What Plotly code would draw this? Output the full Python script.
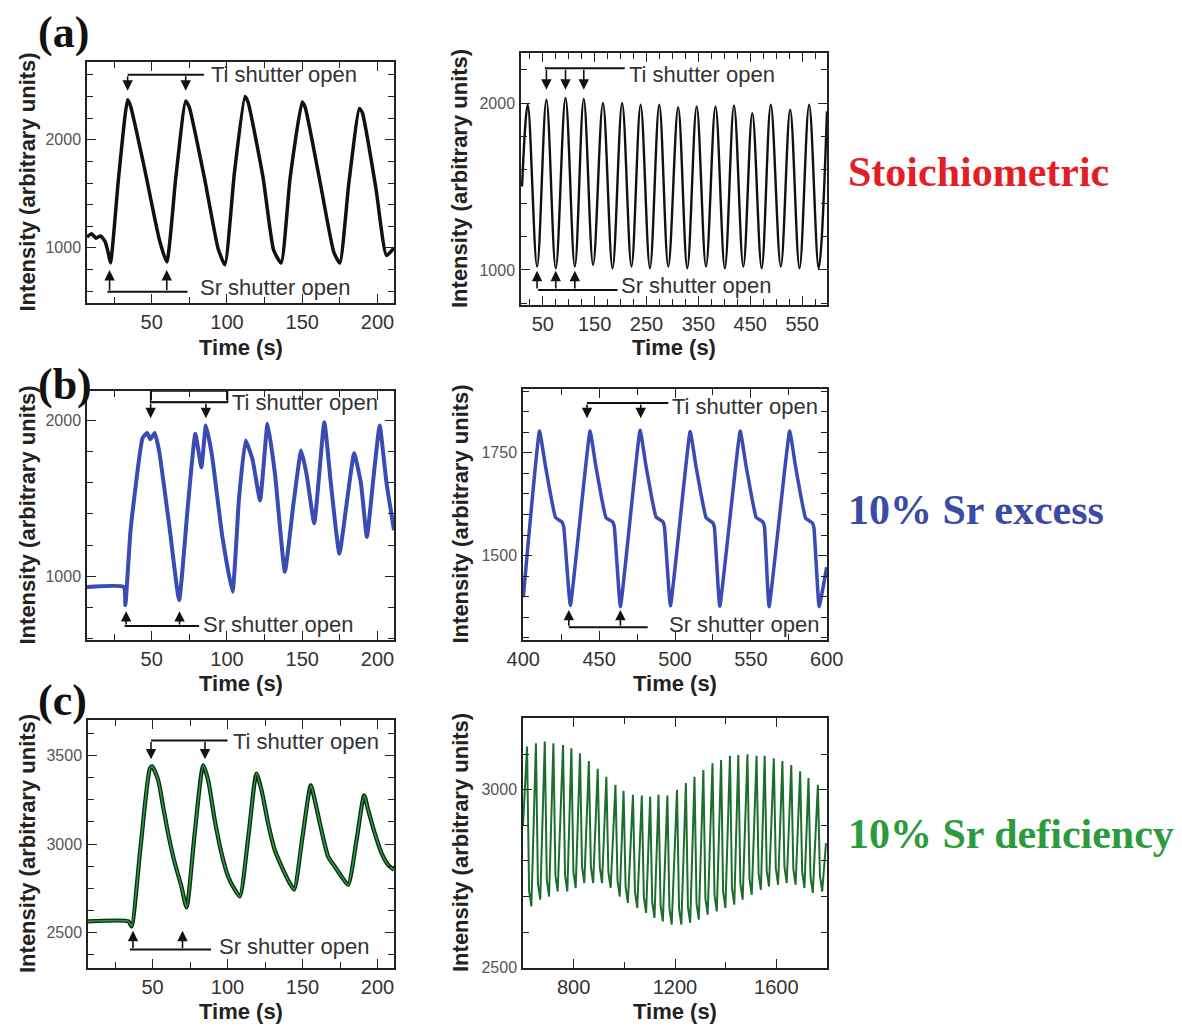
import plotly.graph_objects as go

W, H = 1182, 1026

# ---------------- data ----------------
# (a) left : stoichiometric, 0-210 s
A_L_T = [7, 10, 13, 16, 19, 21, 22.6, 28, 34, 36, 45, 55, 60, 66, 72.6, 75, 85, 94, 98.6,
         105, 112, 114, 124, 131, 136, 142, 150, 152, 162, 171, 175, 181, 188, 190, 199, 206, 211]
A_L_V = [1100, 1130, 1090, 1110, 1060, 960, 860, 1650, 2370, 2310, 1750, 1080, 870, 1650, 2360, 2300, 1650, 1000, 843,
         1700, 2400, 2350, 1650, 980, 860, 1650, 2350, 2300, 1600, 960, 860, 1600, 2290, 2250, 1550, 930, 1000]

# (a) right : stoichiometric, 0-600 s
A_R_T = [10, 21, 39, 57, 75, 93.8, 111.8, 129, 147, 166, 184.5, 203, 221, 238.6, 256.6, 274.6, 292, 311,
         328.6, 346.7, 364.7, 383, 401, 418.7, 436.7, 454, 472, 489.6, 508.9, 527, 545, 563.5, 582, 598]
A_R_V = [1500, 1990, 1020, 2020, 1010, 2030, 1020, 2025, 1030, 2000, 1010, 2000, 1020, 1990, 1010, 1990, 1020, 1975,
         1010, 1980, 1020, 1980, 1010, 1985, 1020, 1940, 1010, 1990, 1020, 1960, 1010, 1990, 1010, 1950]

# (b) left : 10% Sr excess, 0-210 s
B_L_T = [7, 31.5, 32.5, 36, 44, 47, 49, 52, 55, 62, 68.2, 74, 79, 83, 86, 90, 97, 103.7, 108, 112.4, 117, 122,
         127, 132, 138.5, 144, 149.3, 153, 158, 164.7, 169, 174.7, 180, 184.5, 189, 193, 197, 201.5, 206, 211]
B_L_V = [931, 931, 814, 1300, 1890, 1920, 1880, 1920, 1800, 1300, 846, 1450, 1915, 1700, 1968, 1780, 1250, 900, 1500, 1872, 1750, 1487,
         1979, 1650, 1028, 1450, 1808, 1650, 1340, 1990, 1600, 1145, 1500, 1790, 1600, 1252, 1600, 1968, 1600, 1295]

# (b) right : 10% Sr excess, 400-600 s
B_R_T = [400,
         410.7, 414.4, 417.9, 421.2, 425.6, 426.7, 431,
         444, 447.7, 451.2, 454.5, 458.9, 460, 464,
         477, 480.7, 484.2, 487.5, 491.9, 493, 497,
         510, 513.7, 517.2, 520.5, 524.9, 526, 529.5,
         543, 546.7, 550.2, 553.5, 557.9, 559, 562,
         575.6, 579.3, 582.8, 586.1, 590.5, 591.6, 595,
         600]
B_R_V = [1399,
         1803, 1722, 1650, 1593, 1581, 1569, 1379,
         1803, 1720, 1648, 1592, 1582, 1570, 1376,
         1805, 1722, 1650, 1594, 1583, 1571, 1378,
         1802, 1720, 1649, 1592, 1580, 1568, 1377,
         1803, 1721, 1650, 1593, 1582, 1570, 1376,
         1803, 1720, 1648, 1591, 1580, 1568, 1376,
         1472]

# (c) left : 10% Sr deficiency, 0-210 s
C_L_T = [7, 34, 36, 42, 48.2, 49.8, 53.8, 57.1, 60.4, 64.9, 69.3, 72.7,
         78, 83.8, 87.1, 91.5, 96, 100.4, 104.9, 108.2,
         114, 119.3, 122.7, 127.1, 131.5, 137.1, 141.5, 144.4,
         150, 155.5, 158.2, 162.6, 167.1, 171.5, 176, 180.4,
         186, 191.1, 193.8, 198.2, 202.7, 207.1, 211]
C_L_V = [2563, 2563, 2535, 2980, 3425, 3438, 3360, 3210, 3060, 2891, 2760, 2642,
         3050, 3444, 3360, 3135, 2948, 2817, 2742, 2704,
         3050, 3397, 3303, 3116, 2966, 2854, 2779, 2742,
         3040, 3331, 3247, 3079, 2929, 2873, 2817, 2770,
         3020, 3275, 3191, 3060, 2948, 2882, 2854]

# (c) right : 10% Sr deficiency, 600-1800 s (peaks, shoulders, troughs of each oscillation)
C_R_PEAK_T = [616, 651, 686, 720, 758, 791, 825, 860, 895, 929, 965, 997, 1034, 1069, 1102, 1135, 1170,
              1208, 1243, 1277, 1312, 1348, 1382, 1417, 1450, 1486, 1522, 1554, 1590, 1624, 1659, 1694, 1727, 1764]
C_R_PEAK_V = [3122, 3131, 3136, 3131, 3126, 3117, 3103, 3081, 3059, 3037, 3014, 2997, 2986, 2984, 2981, 2986, 2984,
              3000, 3019, 3037, 3056, 3075, 3084, 3096, 3098, 3100, 3096, 3096, 3089, 3081, 3070, 3052, 3033, 3014]
C_R_SH_T = [624, 659, 694, 728, 766, 799, 833, 868, 903, 937, 973, 1005, 1042, 1077, 1110, 1143, 1178,
            1216, 1251, 1285, 1320, 1356, 1390, 1425, 1458, 1494, 1530, 1562, 1598, 1632, 1667, 1702, 1735, 1772]
C_R_SH_V = [2717, 2736, 2745, 2759, 2759, 2769, 2783, 2783, 2783, 2769, 2745, 2727, 2713, 2699, 2685, 2675, 2666,
            2666, 2671, 2680, 2694, 2703, 2713, 2722, 2736, 2750, 2764, 2773, 2778, 2783, 2778, 2769, 2755, 2759]
C_R_TR_T = [633, 668, 703, 737, 775, 808, 842, 877, 912, 946, 982, 1014, 1051, 1086, 1119, 1152, 1187,
            1225, 1260, 1294, 1329, 1365, 1399, 1434, 1467, 1503, 1539, 1571, 1607, 1641, 1676, 1711, 1744, 1781]
C_R_TR_V = [2672, 2691, 2700, 2714, 2714, 2724, 2738, 2738, 2738, 2724, 2700, 2682, 2668, 2654, 2640, 2630, 2621,
            2621, 2626, 2635, 2649, 2658, 2668, 2677, 2691, 2705, 2719, 2728, 2733, 2738, 2733, 2724, 2710, 2714]
C_R_START = (600, 2900)
C_R_END = (1796, 2850)

ROW_LABELS = ["Stoichiometric", "10% Sr excess", "10% Sr deficiency"]
PANEL_LETTERS = ["(a)", "(b)", "(c)"]
X_TITLE = "Time (s)"
Y_TITLE = "Intensity (arbitrary units)"
TI_TEXT = "Ti shutter open"
SR_TEXT = "Sr shutter open"

# shutter markers (data units): (line x0, line x1, line y, arrow xs, arrow tip y, text x, text y)
TI_MARK = {
    "1": (34, 84.7, 2602, [34, 72.6], 2455, 88, 2602),
    "2": (54, 208, 2208, [57, 93.8, 129], 2080, 212, 2170),
    "3": (49.3, 100.4, 2117, [49.3, 86], 2015, 102, 2117),
    "4": (442, 495.6, 1871, [442, 477.4], 1834, 497, 1862),
    "5": (49, 100, 3584, [49, 85], 3478, 102, 3578),
}
SR_MARK = {
    "1": (20.6, 73.8, 595, [22, 60], 795, 81, 632),
    "2": (41, 194, 880, [39, 75, 111.8], 995, 197, 905),
    "3": (32, 81.5, 680, [33, 68.5], 775, 83, 690),
    "4": (430, 482, 1326, [430, 464], 1368, 495, 1332),
    "5": (35, 89, 2404, [37, 70], 2510, 93, 2423),
}

# ---------------- layout geometry (pixels) ----------------
PANELS = {
    "1": dict(box=(87, 394, 62, 303), xr=[7, 211], yr=[490, 2720], xt0=0, xdt=50, xmin=25, ydt=1000, ymin=200),
    "2": dict(box=(521, 827, 53, 305), xr=[8, 598], yr=[790, 2300], xt0=50, xdt=100, xmin=25, ydt=1000, ymin=200),
    "3": dict(box=(87, 394, 391, 640), xr=[7, 211], yr=[590, 2190], xt0=0, xdt=50, xmin=25, ydt=1000, ymin=200),
    "4": dict(box=(523, 827, 389, 640), xr=[399.8, 600.2], yr=[1295, 1905], xt0=0, xdt=50, xmin=25, ydt=250, ymin=50),
    "5": dict(box=(88, 394, 720, 968), xr=[7, 211], yr=[2300, 3700], xt0=0, xdt=50, xmin=25, ydt=500, ymin=125),
    "6": dict(box=(523, 827, 718, 968), xr=[600, 1800], yr=[2499, 3202], xt0=0, xdt=400, xmin=200, ydt=500, ymin=100),
}

BLACK = "#111111"
BLUE = "#3a4bb3"
GREEN = "#1c6e2d"
SANS = "Liberation Sans, Arial, sans-serif"
SERIF = "Liberation Serif, Times New Roman, serif"

fig = go.Figure()


def axname(k, letter):
    return letter + ("" if k == "1" else k)


def add_line(k, xs, ys, color, width, shape="linear", smooth=0.0):
    kw = dict(shape=shape)
    if shape == "spline":
        kw["smoothing"] = smooth
    fig.add_trace(go.Scatter(x=xs, y=ys, mode="lines", line=dict(color=color, width=width, **kw),
                             xaxis=axname(k, "x"), yaxis=axname(k, "y"), showlegend=False, hoverinfo="skip"))


add_line("1", A_L_T, A_L_V, BLACK, 3.5, "spline", 0.5)
add_line("2", A_R_T, A_R_V, BLACK, 2.4, "spline", 1.0)
add_line("3", B_L_T, B_L_V, BLUE, 4, "spline", 0.4)
add_line("4", B_R_T, B_R_V, BLUE, 3.5, "spline", 0.3)
add_line("5", C_L_T, C_L_V, "#0b2a12", 4.2, "spline", 0.6)
add_line("5", C_L_T, C_L_V, "#2b9a40", 1.6, "spline", 0.6)

pts = sorted(list(zip(C_R_PEAK_T, C_R_PEAK_V)) + list(zip(C_R_SH_T, C_R_SH_V)) + list(zip(C_R_TR_T, C_R_TR_V)))
pts = [C_R_START] + pts + [C_R_END]
add_line("6", [p[0] for p in pts], [p[1] for p in pts], GREEN, 2.0)

layout = dict(width=W, height=H, margin=dict(l=0, r=0, t=0, b=0, autoexpand=False),
              paper_bgcolor="white", plot_bgcolor="white", showlegend=False)

for k, p in PANELS.items():
    x0, x1, y0, y1 = p["box"]
    common = dict(showline=True, linecolor="#222", linewidth=1.5, mirror="ticks", ticks="inside",
                  ticklen=9, tickwidth=1.4, tickcolor="#222", showgrid=False, zeroline=False, automargin=False)
    xa = dict(common, domain=[x0 / W, x1 / W], range=p["xr"], tick0=p["xt0"], dtick=p["xdt"],
              anchor=axname(k, "y"),
              tickfont=dict(family=SANS, size=20, color="#333"),
              minor=dict(ticks="inside", ticklen=6, tickwidth=1.2, tickcolor="#222", dtick=p["xmin"], tick0=0))
    ya = dict(common, domain=[1 - y1 / H, 1 - y0 / H], range=p["yr"], tick0=0, dtick=p["ydt"],
              anchor=axname(k, "x"), ticklabelstandoff=1,
              tickfont=dict(family=SANS, size=16, color="#555"),
              minor=dict(ticks="inside", ticklen=6, tickwidth=1.2, tickcolor="#222", dtick=p["ymin"], tick0=0))
    layout["xaxis" + ("" if k == "1" else k)] = xa
    layout["yaxis" + ("" if k == "1" else k)] = ya

fig.update_layout(**layout)

annotations = []
shapes = []

# axis titles
for k, p in PANELS.items():
    x0, x1, y0, y1 = p["box"]
    ty = {"1": 347, "2": 347, "3": 683, "4": 683, "5": 1011, "6": 1011}[k]
    annotations.append(dict(text="<b>%s</b>" % X_TITLE, x=(x0 + x1) / 2 / W, y=1 - ty / H, xref="paper", yref="paper",
                            showarrow=False, xanchor="center", yanchor="middle",
                            font=dict(family=SANS, size=22, color="#222")))
    tx = 27 if x0 < 200 else 460
    annotations.append(dict(text="<b>%s</b>" % Y_TITLE, x=tx / W, y=1 - (y0 + y1) / 2 / H, xref="paper", yref="paper",
                            showarrow=False, textangle=-90, xanchor="center", yanchor="middle",
                            font=dict(family=SANS, size=22, color="#222")))

# shutter annotations
for marks, text, in [(TI_MARK, TI_TEXT), (SR_MARK, SR_TEXT)]:
    for k, (lx0, lx1, ly, axs, tipy, txx, txy) in marks.items():
        xr, yr = axname(k, "x"), axname(k, "y")
        shapes.append(dict(type="line", xref=xr, yref=yr, x0=lx0, x1=lx1, y0=ly, y1=ly,
                           line=dict(color=BLACK, width=2)))
        for a in axs:
            annotations.append(dict(x=a, y=tipy, ax=a, ay=ly, xref=xr, yref=yr, axref=xr, ayref=yr, text="",
                                    showarrow=True, arrowhead=2, arrowsize=1.3, arrowwidth=1.6, arrowcolor=BLACK))
        annotations.append(dict(text=text, x=txx, y=txy, xref=xr, yref=yr, showarrow=False, xanchor="left",
                                yanchor="middle", font=dict(family=SANS, size=22, color="#333")))

# bracket above (b) left Ti marker
shapes.append(dict(type="rect", xref="x3", yref="y3", x0=TI_MARK["3"][0], x1=TI_MARK["3"][1],
                   y0=TI_MARK["3"][2], y1=PANELS["3"]["yr"][1], line=dict(color=BLACK, width=1.5)))

# panel letters
for lab, cy in zip(PANEL_LETTERS, [32, 384, 700]):
    annotations.append(dict(text="<b>%s</b>" % lab, x=36 / W, y=1 - cy / H, xref="paper", yref="paper",
                            showarrow=False, xanchor="left", yanchor="middle",
                            font=dict(family=SERIF, size=44, color="#111")))

# row labels
for lab, cy, col in zip(ROW_LABELS, [172, 510, 834], ["#e41e26", "#3b4ba3", "#2d9a3e"]):
    annotations.append(dict(text="<b>%s</b>" % lab, x=846 / W, y=1 - cy / H, xref="paper", yref="paper",
                            showarrow=False, xanchor="left", yanchor="middle",
                            font=dict(family=SERIF, size=42, color=col)))

fig.update_layout(annotations=annotations, shapes=shapes)
fig.write_html("out.html")
